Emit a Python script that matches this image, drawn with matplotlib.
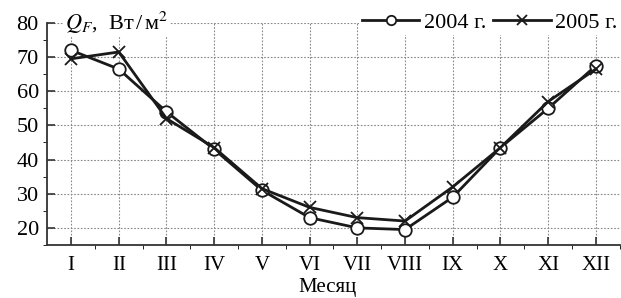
import matplotlib
matplotlib.use("Agg")
import matplotlib.pyplot as plt
import numpy as np

months = ["I", "II", "III", "IV", "V", "VI", "VII", "VIII", "IX", "X", "XI", "XII"]
q_2004 = [72, 66.5, 54, 43, 31, 23, 20, 19.5, 29, 43.5, 55, 67.5]
q_2005 = [69.5, 71.5, 52, 43.5, 31.5, 26, 23, 22, 32, 43.5, 57, 66.5]

plt.rcParams['font.family'] = ['Liberation Serif', 'DejaVu Serif']
plt.rcParams['mathtext.fontset'] = 'stix'
fs = 16

fig = plt.figure(figsize=(6.21, 2.98), dpi=100)
ax = fig.add_axes([0.076, 0.178, 0.922, 0.745])

x = np.arange(1, len(months) + 1)
ax.plot(x, q_2004, color='#1a1a1a', lw=2, marker='o', ms=9, mfc='white',
        mec='#1a1a1a', mew=1.3, label='2004 г.', zorder=3)
ax.plot(x, q_2005, color='#1a1a1a', lw=2, marker='x', ms=9, mew=1.3,
        label='2005 г.', zorder=3)

ax.set_xlim(0.5, 12.5)
ax.set_ylim(15, 80)
ax.set_xticks(x)
ax.set_xticklabels(months)
ax.set_xticks(x + 0.5, minor=True)
ax.set_yticks([20, 30, 40, 50, 60, 70, 80])
ax.set_yticks(np.arange(15, 80, 10), minor=True)
ax.tick_params(direction='in', labelsize=fs, color='#333333', width=1.2)
ax.tick_params(axis='x', which='major', length=6, labelsize=15, pad=8)
ax.tick_params(axis='x', which='minor', length=3)
ax.tick_params(axis='y', which='major', length=6, pad=6)
ax.tick_params(axis='y', which='minor', length=3)

for s in ['top', 'right']:
    ax.spines[s].set_visible(False)
for s in ['left', 'bottom']:
    ax.spines[s].set_linewidth(1.3)
    ax.spines[s].set_color('#333333')

ax.grid(True, which='major', linestyle=(0, (1.5, 1.5)), color='#888888', lw=0.8)

ax.text(0.88, 80, r'$Q_F$,  Вт$\,$/$\,$м$^2$', fontsize=fs, va='center', ha='left',
        bbox=dict(facecolor='white', edgecolor='none', pad=1), zorder=4)
ax.set_xlabel('Месяц', fontsize=15)
ax.xaxis.set_label_coords(0.49, -0.15)

leg = ax.legend(loc='center right', bbox_to_anchor=(1.0, 1.0), ncol=2,
                frameon=True, fontsize=fs, handlelength=2.6, handletextpad=0.2,
                columnspacing=0.3, borderpad=0.1, borderaxespad=0,
                markerscale=0.75)
leg.get_frame().set_facecolor('white')
leg.get_frame().set_edgecolor('none')
leg.get_frame().set_alpha(1)
leg.set_zorder(5)

fig.savefig('out.png', dpi=100)
